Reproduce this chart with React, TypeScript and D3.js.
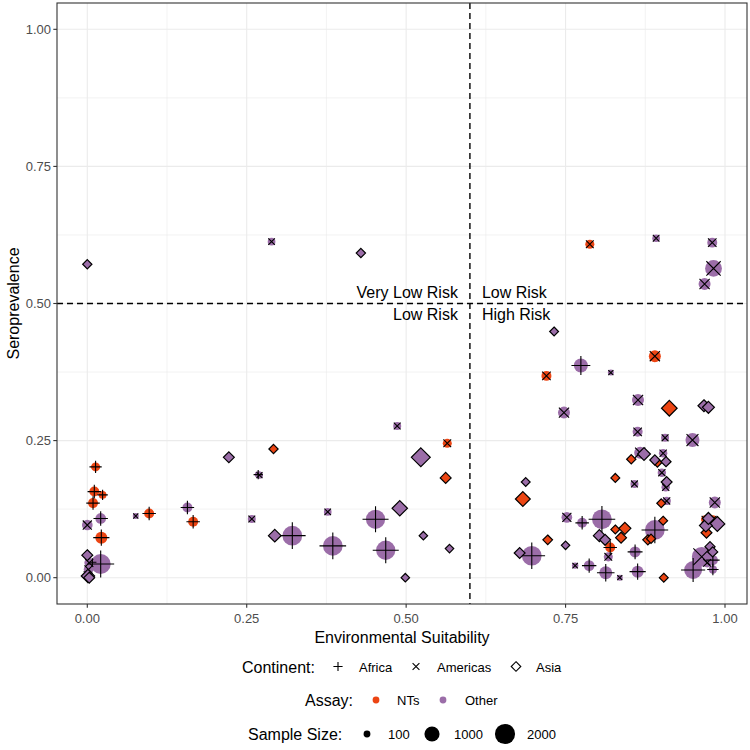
import * as d3 from 'd3';

// [environmental suitability, seroprevalence, sample size]
type Pt = [number, number, number];

const africaNTs: Pt[] = [
  [0.013, 0.202, 250], [0.011, 0.157, 330], [0.024, 0.151, 150], [0.009, 0.136, 330],
  [0.097, 0.117, 330], [0.166, 0.102, 330], [0.022, 0.073, 550], [0.82, 0.055, 330],
];

const africaOther: Pt[] = [
  [0.021, 0.108, 400], [0.157, 0.128, 330], [0.021, 0.025, 1960], [0.008, 0.028, 60],
  [0.452, 0.1065, 1800], [0.3215, 0.0766, 1900], [0.385, 0.058, 1900], [0.468, 0.05, 1800],
  [0.268, 0.188, 100], [0.774, 0.387, 820], [0.776, 0.1, 330], [0.807, 0.1065, 1900],
  [0.697, 0.04, 1900], [0.787, 0.022, 400], [0.813, 0.009, 680], [0.859, 0.047, 440],
  [0.863, 0.011, 550], [0.89, 0.087, 1900], [0.95, 0.014, 1500], [0.981, 0.032, 330],
  [0.981, 0.015, 200],
];

const americasNTs: Pt[] = [
  [0.5645, 0.245, 250], [0.788, 0.608, 250], [0.89, 0.404, 550], [0.72, 0.368, 330],
  [0.969, 0.106, 200], [0.981, 0.106, 200],
];

const americasOther: Pt[] = [
  [0.0, 0.096, 400], [0.076, 0.1125, 60], [0.258, 0.107, 170], [0.27, 0.187, 110],
  [0.486, 0.2766, 170], [0.377, 0.12, 150], [0.289, 0.6127, 150], [0.892, 0.619, 150],
  [0.98, 0.611, 330], [0.982, 0.564, 1300], [0.968, 0.5355, 550], [0.821, 0.374, 60],
  [0.8636, 0.324, 550], [0.7475, 0.301, 550], [0.752, 0.11, 400], [0.765, 0.022, 80],
  [0.817, 0.038, 250], [0.863, 0.266, 330], [0.906, 0.255, 170], [0.949, 0.251, 820],
  [0.867, 0.228, 550], [0.903, 0.227, 200], [0.858, 0.171, 170], [0.901, 0.1915, 200],
  [0.907, 0.165, 200], [0.9085, 0.14, 200], [0.984, 0.137, 550], [0.9635, 0.038, 1900],
  [0.972, 0.027, 250], [0.835, 0.0, 60], [0.003, 0.027, 300], [0.002, 0.015, 300],
  [0.0, 0.005, 200],
];

const asiaNTs: Pt[] = [
  [0.292, 0.2347, 150], [0.562, 0.182, 250], [0.683, 0.1435, 600], [0.722, 0.069, 170],
  [0.9127, 0.309, 680], [0.853, 0.216, 150], [0.894, 0.21, 150], [0.828, 0.182, 130],
  [0.9, 0.1357, 130], [0.828, 0.088, 130], [0.843, 0.09, 330], [0.837, 0.073, 250],
  [0.903, 0.104, 130], [0.879, 0.069, 200], [0.884, 0.071, 150], [0.971, 0.082, 250],
  [0.904, 0.0, 130],
];

const asiaOther: Pt[] = [
  [0.0, 0.5715, 150], [0.429, 0.592, 150], [0.222, 0.2195, 250], [0.523, 0.2195, 1100],
  [0.49, 0.1265, 650], [0.294, 0.0766, 390], [0.527, 0.0766, 110], [0.568, 0.053, 110],
  [0.4987, 0.0, 110], [0.732, 0.449, 130], [0.967, 0.3136, 330], [0.974, 0.3107, 330],
  [0.6875, 0.1745, 130], [0.75, 0.059, 110], [0.678, 0.045, 250], [0.803, 0.0766, 330],
  [0.812, 0.069, 250], [0.873, 0.2255, 400], [0.89, 0.2146, 200], [0.9075, 0.2115, 200],
  [0.9085, 0.1745, 250], [0.988, 0.098, 600], [0.97, 0.095, 400], [0.974, 0.108, 330],
  [0.9765, 0.0565, 200], [0.9807, 0.047, 200], [0.0, 0.041, 250], [0.001, 0.003, 450],
  [0.003, 0.0, 250],
];

const majorTicks = [0, 0.25, 0.5, 0.75, 1];
const minorTicks = [0.125, 0.375, 0.625, 0.875];
const sizeBreaks = [100, 1000, 2000];

const assayColors: Record<string, string> = { NTs: '#EC4513', Other: '#9B6DA8' };

const groups = [
  { continent: 'Africa', assay: 'NTs', pts: africaNTs },
  { continent: 'Africa', assay: 'Other', pts: africaOther },
  { continent: 'Americas', assay: 'NTs', pts: americasNTs },
  { continent: 'Americas', assay: 'Other', pts: americasOther },
  { continent: 'Asia', assay: 'NTs', pts: asiaNTs },
  { continent: 'Asia', assay: 'Other', pts: asiaOther },
];

const font = '"Liberation Sans", Arial, sans-serif';
const panel = { left: 57, right: 747, top: 3, bottom: 604 };

function shapePath(cont: string, cx: number, cy: number, r: number) {
  if (cont === 'Africa') {
    const a = r * 1.35;
    return `M${cx - a},${cy}H${cx + a}M${cx},${cy - a}V${cy + a}`;
  }
  if (cont === 'Americas') {
    const b = r * 0.85;
    return `M${cx - b},${cy - b}L${cx + b},${cy + b}M${cx - b},${cy + b}L${cx + b},${cy - b}`;
  }
  const h = r * 1.2;
  return `M${cx},${cy - h}L${cx + h},${cy}L${cx},${cy + h}L${cx - h},${cy}Z`;
}

export default function App() {
  const x = d3.scaleLinear().domain([-0.0475, 1.0345]).range([panel.left, panel.right]);
  const y = d3.scaleLinear().domain([-0.048, 1.048]).range([panel.bottom, panel.top]);
  const size = d3.scaleSqrt().domain([0, 2200]).range([1.5, 10.5]);

  const all = groups.flatMap((g) =>
    g.pts.map((p) => ({ cont: g.continent, assay: g.assay, sx: p[0], sy: p[1], n: p[2] }))
  );

  const cx = (panel.left + panel.right) / 2;
  const cy = (panel.top + panel.bottom) / 2;
  const vx = x(0.6);
  const hy = y(0.5);

  return (
    <svg width={750} height={750} style={{ position: 'absolute', left: 0, top: 0 }} fontFamily={font}>
      <rect width={750} height={750} fill="white" />
      {/* grid */}
      {minorTicks.map((t) => (
        <g key={'mn' + t}>
          <line x1={x(t)} x2={x(t)} y1={panel.top} y2={panel.bottom} stroke="#EBEBEB" strokeWidth={0.6} />
          <line y1={y(t)} y2={y(t)} x1={panel.left} x2={panel.right} stroke="#EBEBEB" strokeWidth={0.6} />
        </g>
      ))}
      {majorTicks.map((t) => (
        <g key={'mj' + t}>
          <line x1={x(t)} x2={x(t)} y1={panel.top} y2={panel.bottom} stroke="#EBEBEB" strokeWidth={1.1} />
          <line y1={y(t)} y2={y(t)} x1={panel.left} x2={panel.right} stroke="#EBEBEB" strokeWidth={1.1} />
        </g>
      ))}
      {/* points: colour layer then shape layer */}
      {all.filter((d) => d.cont !== 'Asia').map((d, i) => (
        <circle key={'c' + i} cx={x(d.sx)} cy={y(d.sy)} r={size(d.n)} fill={assayColors[d.assay]} />
      ))}
      {all.map((d, i) => (
        <path
          key={'s' + i}
          d={shapePath(d.cont, x(d.sx), y(d.sy), size(d.n))}
          fill={d.cont === 'Asia' ? assayColors[d.assay] : 'none'}
          stroke="black"
          strokeWidth={d.cont === 'Asia' ? 1.2 : 1.1}
        />
      ))}
      {/* risk thresholds */}
      <line x1={vx} x2={vx} y1={panel.top} y2={panel.bottom} stroke="black" strokeWidth={1.4} strokeDasharray="6,4" />
      <line x1={panel.left} x2={panel.right} y1={hy} y2={hy} stroke="black" strokeWidth={1.4} strokeDasharray="6,4" />
      <g fontSize={16} fill="black">
        <text x={vx - 12} y={hy - 6} textAnchor="end">Very Low Risk</text>
        <text x={vx - 12} y={hy + 16} textAnchor="end">Low Risk</text>
        <text x={vx + 12} y={hy - 6}>Low Risk</text>
        <text x={vx + 12} y={hy + 16}>High Risk</text>
      </g>
      <rect x={panel.left} y={panel.top} width={panel.right - panel.left} height={panel.bottom - panel.top}
        fill="none" stroke="#333333" strokeWidth={1.1} />
      {/* axes */}
      {majorTicks.map((t) => (
        <g key={'ax' + t}>
          <line x1={panel.left - 3.7} x2={panel.left} y1={y(t)} y2={y(t)} stroke="#333333" strokeWidth={1.1} />
          <text x={panel.left - 6} y={y(t) + 4.5} textAnchor="end" fontSize={13} fill="#4D4D4D">{t.toFixed(2)}</text>
          <line x1={x(t)} x2={x(t)} y1={panel.bottom} y2={panel.bottom + 3.7} stroke="#333333" strokeWidth={1.1} />
          <text x={x(t)} y={panel.bottom + 19} textAnchor="middle" fontSize={13} fill="#4D4D4D">{t.toFixed(2)}</text>
        </g>
      ))}
      <text x={cx} y={643} textAnchor="middle" fontSize={16}>Environmental Suitability</text>
      <text transform={`translate(19,${cy}) rotate(-90)`} textAnchor="middle" fontSize={16}>Seroprevalence</text>
      {/* legends */}
      <g fontSize={13}>
        <text x={242} y={672.5} fontSize={16}>Continent:</text>
        <path d={shapePath('Africa', 338, 666.5, 3.4)} stroke="black" strokeWidth={1.1} fill="none" />
        <text x={359} y={671.5}>Africa</text>
        <path d={shapePath('Americas', 416, 666.5, 4)} stroke="black" strokeWidth={1.1} fill="none" />
        <text x={437} y={671.5}>Americas</text>
        <path d={shapePath('Asia', 516, 666.5, 4)} stroke="black" strokeWidth={1.1} fill="none" />
        <text x={536} y={671.5}>Asia</text>

        <text x={305} y={706} fontSize={16}>Assay:</text>
        <circle cx={376} cy={700} r={3.4} fill={assayColors.NTs} />
        <text x={397} y={705}>NTs</text>
        <circle cx={443} cy={700} r={3.4} fill={assayColors.Other} />
        <text x={465} y={705}>Other</text>

        <text x={248} y={740} fontSize={16}>Sample Size:</text>
        {sizeBreaks.map((b, i) => (
          <g key={'sz' + b}>
            <circle cx={[367, 432, 505][i]} cy={734} r={size(b)} fill="black" />
            <text x={[388, 454, 527][i]} y={739}>{b}</text>
          </g>
        ))}
      </g>
    </svg>
  );
}
